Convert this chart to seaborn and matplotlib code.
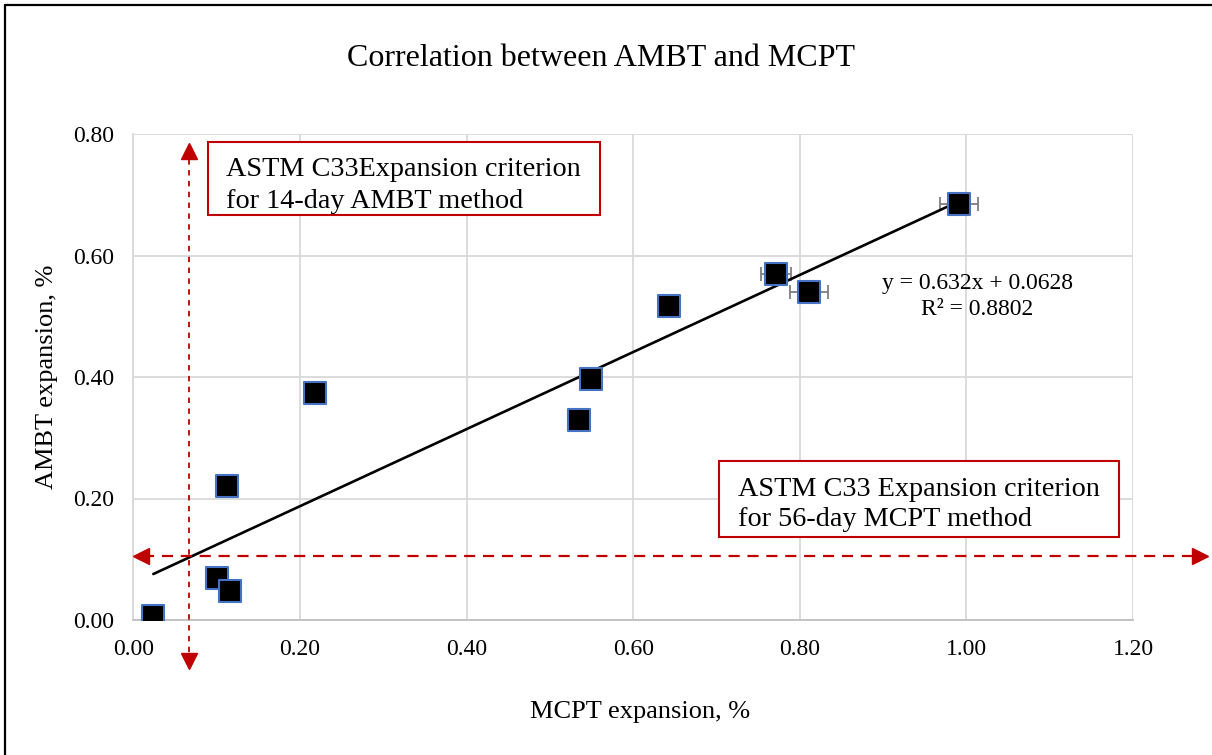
import numpy as np
import pandas as pd
import matplotlib
matplotlib.use("Agg")
import matplotlib.pyplot as plt
from matplotlib.patches import Rectangle
from matplotlib.lines import Line2D
import seaborn as sns

# ------------------------------
# Data
# ------------------------------
mcpt = [0.024, 0.101, 0.116, 0.112, 0.218, 0.550, 0.535, 0.643, 0.772, 0.811, 0.991]
ambt = [0.007, 0.069, 0.048, 0.221, 0.374, 0.396, 0.329, 0.517, 0.570, 0.540, 0.685]
mcpt_err = [0, 0, 0, 0, 0, 0, 0, 0, 0.018, 0.023, 0.023]

# expansion criteria shown as dashed arrows
ambt_criterion = 0.105
mcpt_criterion = 0.067

x_ticks = [0.0, 0.2, 0.4, 0.6, 0.8, 1.0, 1.2]
y_ticks = [0.0, 0.2, 0.4, 0.6, 0.8]

df = pd.DataFrame({"MCPT": mcpt, "AMBT": ambt, "err": mcpt_err})

# ------------------------------
# Style
# ------------------------------
sns.set_style("whitegrid")
plt.rcParams["font.family"] = ["Liberation Serif", "DejaVu Serif"]
plt.rcParams["text.color"] = "black"
plt.rcParams["axes.labelcolor"] = "black"

W, H = 1212, 755
fig = plt.figure(figsize=(W / 100, H / 100), dpi=100)
ax = fig.add_axes([133.3 / W, 1 - 620 / H, (1133 - 133.3) / W, (620 - 134) / H])

red = "#C00000"
grid = "#D9D9D9"

# trendline fitted on the data
sns.regplot(data=df, x="MCPT", y="AMBT", ax=ax, scatter=False, ci=None,
            truncate=True, line_kws={"color": "black", "linewidth": 1.9, "zorder": 3})

# horizontal error bars
err = df[df["err"] > 0]
ax.errorbar(err["MCPT"], err["AMBT"], xerr=err["err"], fmt="none",
            ecolor="#7F7F7F", elinewidth=1.3, capsize=5, capthick=1.3, zorder=2)

sns.scatterplot(data=df, x="MCPT", y="AMBT", ax=ax, marker="s", s=240,
                color="black", edgecolor="#4472C4", linewidth=1.5, zorder=4)

# ------------------------------
# Criterion arrows (extend outside axes)
# ------------------------------
ax.plot([mcpt_criterion, mcpt_criterion], [-0.07, 0.77], color=red, lw=1.3,
        dashes=(3, 3), clip_on=False, zorder=5)
ax.plot([mcpt_criterion], [0.772], marker="^", color=red, ms=11, clip_on=False, zorder=5)
ax.plot([mcpt_criterion], [-0.068], marker="v", color=red, ms=11, clip_on=False, zorder=5)

ax.plot([0.012, 1.275], [ambt_criterion, ambt_criterion], color=red, lw=1.6,
        dashes=(5, 3.5), clip_on=False, zorder=5)
ax.plot([0.009], [ambt_criterion], marker="<", color=red, ms=11, clip_on=False, zorder=5)
ax.plot([1.280], [ambt_criterion], marker=">", color=red, ms=11, clip_on=False, zorder=5)

# ------------------------------
# Axes formatting
# ------------------------------
ax.set_xlim(0, 1.2)
ax.set_ylim(0, 0.8)
ax.set_xticks(x_ticks)
ax.set_yticks(y_ticks)
ax.set_xticklabels([f"{v:.2f}" for v in x_ticks])
ax.set_yticklabels([f"{v:.2f}" for v in y_ticks])
ax.tick_params(axis="both", length=0, labelsize=17, colors="black")
ax.tick_params(axis="x", pad=14)
ax.tick_params(axis="y", pad=14)
ax.grid(True, color=grid, linewidth=1.3)
for s in ax.spines.values():
    s.set_visible(False)
ax.spines["left"].set_visible(True)
ax.spines["bottom"].set_visible(True)
ax.spines["left"].set_color(grid)
ax.spines["bottom"].set_color("#BFBFBF")
ax.spines["left"].set_linewidth(1.3)
ax.spines["bottom"].set_linewidth(1.3)

ax.set_xlabel("")
ax.set_ylabel("")
fig.text(640 / W, 1 - 712 / H, "MCPT expansion, %", ha="center", va="center", fontsize=19)
fig.text(47 / W, 1 - 377 / H, "AMBT expansion, %", ha="center", va="center",
         rotation=90, fontsize=19)
fig.text(601 / W, 1 - 58 / H, "Correlation between AMBT and MCPT", ha="center",
         va="center", fontsize=23)

# trendline equation
fig.text(977 / W, 1 - 283 / H, "y = 0.632x + 0.0628", ha="center", va="center", fontsize=17)
fig.text(977 / W, 1 - 309 / H, "R² = 0.8802", ha="center", va="center", fontsize=17)

# ------------------------------
# Annotation boxes
# ------------------------------
def add_box(x0, y0, x1, y1, lines, tx, ty):
    fig.add_artist(Rectangle((x0 / W, 1 - y1 / H), (x1 - x0) / W, (y1 - y0) / H,
                             transform=fig.transFigure, facecolor="white",
                             edgecolor=red, linewidth=1.5, zorder=6))
    for i, line in enumerate(lines):
        fig.text(tx / W, 1 - ty[i] / H, line, ha="left", va="center",
                 fontsize=20.3, zorder=7)

add_box(208, 142, 600, 215, ["ASTM C33Expansion criterion", "for 14-day AMBT method"],
        226, [169, 201])
add_box(719, 461, 1119, 537, ["ASTM C33 Expansion criterion", "for 56-day MCPT method"],
        738, [489, 520])

# chart area border (left and top visible)
fig.add_artist(Line2D([5 / W, 5 / W], [0, 1 - 5 / H], color="black", lw=1.6,
                      transform=fig.transFigure))
fig.add_artist(Line2D([5 / W, 1], [1 - 5 / H, 1 - 5 / H], color="black", lw=1.6,
                      transform=fig.transFigure))

fig.savefig("out.png", dpi=100)
